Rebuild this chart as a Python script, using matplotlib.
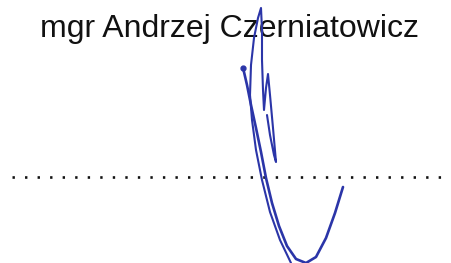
import numpy as np
import matplotlib
matplotlib.use("Agg")
import matplotlib.pyplot as plt

# name printed above the signature line
name_text = "mgr Andrzej Czerniatowicz"

# signature strokes (pixel coords, y down)
stroke1_x = [243, 244, 247, 251, 256, 261, 266, 272, 279, 287, 296, 306, 316, 326, 335, 343]
stroke1_y = [68, 72, 85, 105, 128, 152, 178, 203, 226, 246, 259, 263, 257, 238, 213, 187]

stroke2_x = [291, 280, 270, 262, 256, 252, 250, 251, 254, 258, 261, 262, 262, 263, 264, 266, 268, 270, 273, 276, 274, 270, 267]
stroke2_y = [263, 240, 212, 180, 150, 120, 95, 65, 38, 18, 8, 30, 60, 90, 110, 88, 74, 95, 128, 162, 155, 135, 115]

line_y = 177
line_x0, line_x1 = 12, 452

fig = plt.figure(figsize=(4.52, 2.63), dpi=100)
ax = fig.add_axes([0, 0, 1, 1])
ax.set_xlim(0, 452)
ax.set_ylim(263, 0)
ax.axis("off")

ax.text(230, 37, name_text, fontsize=23, family="Liberation Sans",
        ha="center", va="baseline", color="#111111", zorder=1)

ax.plot([line_x0, line_x1], [line_y, line_y], color="#111111", lw=1.9,
        linestyle=(0, (0.9, 3.85)), dash_capstyle="butt", zorder=1)

ink = "#2b35a8"
ax.plot(stroke1_x, stroke1_y, color=ink, lw=1.9, solid_capstyle="round",
        solid_joinstyle="round", zorder=2)
ax.plot(stroke2_x, stroke2_y, color=ink, lw=1.5, solid_capstyle="round",
        solid_joinstyle="round", zorder=2)
ax.plot([stroke1_x[0]], [stroke1_y[0]], "o", ms=3.5, color=ink, zorder=2)

fig.savefig("out.png", dpi=100)
